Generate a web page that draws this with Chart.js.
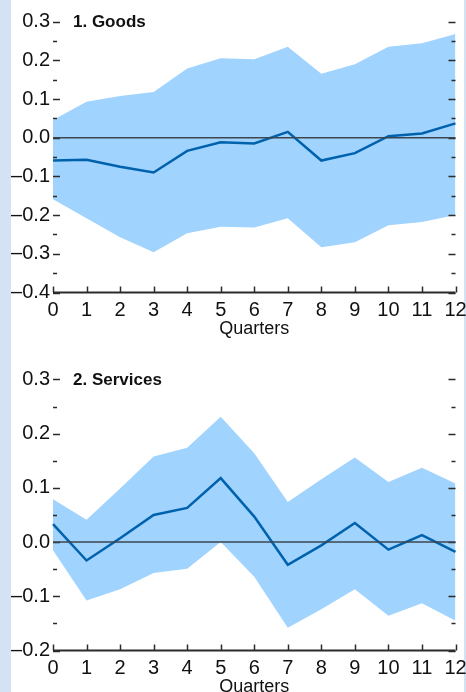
<!DOCTYPE html>
<html>
<head>
<meta charset="utf-8">
<script src="https://cdn.jsdelivr.net/npm/chart.js@4.4.1/dist/chart.umd.min.js"></script>
<style>
  html, body { margin: 0; padding: 0; }
  body { width: 466px; height: 692px; overflow: hidden; background: #d3e3f3; position: relative; }
  #sheet { position: absolute; left: 11px; top: 0; width: 453px; height: 692px; background: #fff; }
  canvas { position: absolute; left: 0; }
  #c1 { top: 0; }
  #c2 { top: 346px; }
</style>
</head>
<body>
<div id="sheet"></div>
<canvas id="c1" width="466" height="340"></canvas>
<canvas id="c2" width="466" height="352"></canvas>
<script>
var quarters = ['0','1','2','3','4','5','6','7','8','9','10','11','12'];

var goodsMid   = [-0.059, -0.057, -0.075, -0.090, -0.034, -0.012, -0.015, 0.015, -0.059, -0.040, 0.004, 0.011, 0.037];
var goodsUpper = [0.046, 0.093, 0.108, 0.118, 0.179, 0.205, 0.203, 0.235, 0.165, 0.190, 0.235, 0.244, 0.268];
var goodsLower = [-0.159, -0.208, -0.257, -0.296, -0.247, -0.230, -0.232, -0.208, -0.283, -0.270, -0.226, -0.218, -0.200];

var servMid   = [0.033, -0.034, 0.007, 0.050, 0.063, 0.118, 0.047, -0.042, -0.006, 0.035, -0.014, 0.013, -0.018];
var servUpper = [0.079, 0.041, 0.099, 0.158, 0.174, 0.231, 0.164, 0.074, 0.116, 0.156, 0.111, 0.137, 0.108];
var servLower = [-0.015, -0.108, -0.087, -0.057, -0.049, 0.000, -0.064, -0.158, -0.124, -0.087, -0.136, -0.113, -0.145];

var BAND = '#a0d3fe';
var LINE = '#0062ad';
var INK = '#2b2b2b';
var FONT = "'Liberation Sans', Arial, sans-serif";

function fmt(v) {
  var s = Math.abs(v).toFixed(1);
  return v < -0.0001 ? '\u2013' + s : s;
}

// inward ticks, zero line, bottom axis line and panel title
var axisMarks = {
  id: 'axisMarks',
  afterDatasetsDraw: function(chart, args, opts) {
    var ctx = chart.ctx, a = chart.chartArea;
    var y = chart.scales.y;
    ctx.save();
    ctx.strokeStyle = INK;
    ctx.lineWidth = 1.5;
    for (var v = y.min; v <= y.max + 1e-9; v += 0.05) {
      var major = Math.abs(Math.round(v * 10) - v * 10) < 1e-6;
      var py = Math.round(y.getPixelForValue(v)) + 0.5;
      var len = major ? 7 : 4;
      ctx.beginPath();
      ctx.moveTo(a.left, py); ctx.lineTo(a.left + len, py);
      ctx.moveTo(a.right, py); ctx.lineTo(a.right - len, py);
      ctx.stroke();
    }
    // zero line
    var z = y.getPixelForValue(0);
    ctx.strokeStyle = '#3c4650';
    ctx.beginPath();
    ctx.moveTo(a.left, z); ctx.lineTo(a.right, z);
    ctx.stroke();
    ctx.restore();
  },
  afterDraw: function(chart, args, opts) {
    var ctx = chart.ctx, a = chart.chartArea;
    var x = chart.scales.x, y = chart.scales.y;
    ctx.save();
    ctx.strokeStyle = INK;
    ctx.lineWidth = 2;
    ctx.beginPath();
    ctx.moveTo(a.left, a.bottom); ctx.lineTo(a.right, a.bottom);
    ctx.stroke();
    ctx.lineWidth = 1.5;
    for (var i = 0; i < quarters.length; i++) {
      var px = Math.round(x.getPixelForValue(i)) + 0.5;
      ctx.beginPath();
      ctx.moveTo(px, a.bottom); ctx.lineTo(px, a.bottom - 6);
      ctx.stroke();
    }
    ctx.fillStyle = '#111';
    ctx.font = 'bold 17px ' + FONT;
    ctx.textBaseline = 'middle';
    ctx.fillText(opts.title, a.left + 20, y.getPixelForValue(y.max) + 1);
    ctx.restore();
  }
};

function makeChart(id, title, upper, lower, mid, ymin, ymax, padTop) {
  return new Chart(document.getElementById(id), {
    type: 'line',
    data: {
      labels: quarters,
      datasets: [
        { data: upper, fill: '+1', backgroundColor: BAND, borderWidth: 0, pointRadius: 0, order: 3 },
        { data: lower, fill: false, borderWidth: 0, pointRadius: 0, order: 3 },
        { data: mid, fill: false, borderColor: LINE, borderWidth: 2.5, pointRadius: 0, order: 1 }
      ]
    },
    options: {
      responsive: false,
      animation: false,
      events: [],
      layout: { padding: { top: padTop, right: 10.5, left: 0, bottom: 0 } },
      plugins: { legend: { display: false }, tooltip: { enabled: false }, axisMarks: { title: title } },
      scales: {
        x: {
          type: 'category',
          offset: false,
          grid: { display: false, drawTicks: false },
          border: { display: false },
          ticks: { color: '#111', font: { family: FONT, size: 20 }, padding: 6, maxRotation: 0, autoSkip: false },
          title: { display: true, text: 'Quarters', color: '#111', font: { family: FONT, size: 18 }, padding: { top: -4, bottom: 0 } },
          afterFit: function(s) { s.height = 47.5; s.paddingLeft = 0; s.paddingRight = 0; }
        },
        y: {
          min: ymin, max: ymax,
          grid: { display: false, drawTicks: false },
          border: { display: false },
          ticks: { stepSize: 0.1, color: '#111', font: { family: FONT, size: 20 }, padding: 3, callback: function(v) { return fmt(v); } },
          afterFit: function(s) { s.width = 53; }
        }
      }
    },
    plugins: [axisMarks]
  });
}

makeChart('c1', '1. Goods', goodsUpper, goodsLower, goodsMid, -0.4, 0.3, 21.6);
makeChart('c2', '2. Services', servUpper, servLower, servMid, -0.2, 0.3, 33.4);
</script>
</body>
</html>
